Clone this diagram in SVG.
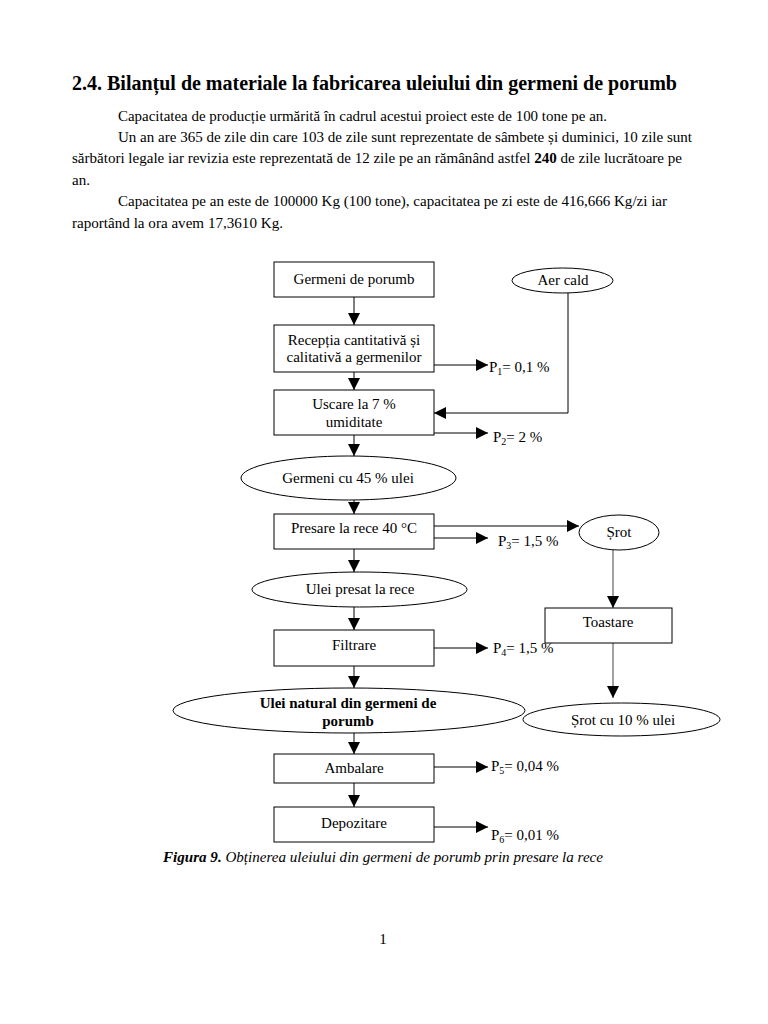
<svg xmlns="http://www.w3.org/2000/svg" width="768" height="1024" viewBox="0 0 768 1024">
<style>
text{font-family:"Liberation Serif","Times New Roman",serif;fill:#000}
.t{font-size:20px;font-weight:bold}
.b{font-size:15px}
.l{font-size:15px;text-anchor:middle}
.p{font-size:15px}
.s{font-size:10px}
.box{fill:#fff;stroke:#000;stroke-width:1}
.ln{fill:none;stroke:#000;stroke-width:1}
.g{stroke:#444}
.cap{font-size:14px;font-style:italic}
</style>
<defs>
<marker id="ah" markerUnits="userSpaceOnUse" markerWidth="12" markerHeight="12" refX="12" refY="6" orient="auto">
<path d="M0,0 L12,6 L0,12 z" fill="#000"/>
</marker>
</defs>
<rect width="768" height="1024" fill="#fff"/>

<g id="header">
<text class="t" x="72" y="90" textLength="605" lengthAdjust="spacingAndGlyphs">2.4. Bilanțul de materiale la fabricarea uleiului din germeni de porumb</text>
<text class="b" x="118" y="121" textLength="489" lengthAdjust="spacingAndGlyphs">Capacitatea de producție urmărită în cadrul acestui proiect este de 100 tone pe an.</text>
<text class="b" x="118" y="142" textLength="574" lengthAdjust="spacingAndGlyphs">Un an are 365 de zile din care 103 de zile sunt reprezentate de sâmbete și duminici, 10 zile sunt</text>
<text class="b" x="72" y="163" textLength="610" lengthAdjust="spacingAndGlyphs">sărbători legale iar revizia este reprezentată de 12 zile pe an rămânând astfel <tspan font-weight="bold">240</tspan> de zile lucrătoare pe</text>
<text class="b" x="72" y="185">an.</text>
<text class="b" x="118" y="206" textLength="549" lengthAdjust="spacingAndGlyphs">Capacitatea pe an este de 100000 Kg (100 tone), capacitatea pe zi este de 416,666 Kg/zi iar</text>
<text class="b" x="72" y="228" textLength="211" lengthAdjust="spacingAndGlyphs">raportând la ora avem 17,3610 Kg.</text>
</g>

<g id="connectors">
<line class="ln" x1="354" y1="297" x2="354" y2="325" marker-end="url(#ah)"/>
<line class="ln" x1="354" y1="372" x2="354" y2="390" marker-end="url(#ah)"/>
<line class="ln" x1="354" y1="435" x2="354" y2="456" marker-end="url(#ah)"/>
<line class="ln" x1="354" y1="500" x2="354" y2="514" marker-end="url(#ah)"/>
<line class="ln" x1="354" y1="549" x2="354" y2="572" marker-end="url(#ah)"/>
<line class="ln" x1="354" y1="607" x2="354" y2="630" marker-end="url(#ah)"/>
<line class="ln" x1="354" y1="666" x2="354" y2="688" marker-end="url(#ah)"/>
<line class="ln" x1="354" y1="733" x2="354" y2="754" marker-end="url(#ah)"/>
<line class="ln" x1="354" y1="783" x2="354" y2="807" marker-end="url(#ah)"/>
<polyline class="ln" points="568,293 568,413 434,413" marker-end="url(#ah)"/>
<line class="ln" x1="434" y1="526" x2="579" y2="526" marker-end="url(#ah)"/>
<line class="ln g" x1="613" y1="550" x2="613" y2="608" marker-end="url(#ah)"/>
<line class="ln g" x1="613" y1="643" x2="613" y2="698" marker-end="url(#ah)"/>
<line class="ln" x1="434" y1="365" x2="488" y2="365" marker-end="url(#ah)"/>
<line class="ln" x1="434" y1="433" x2="488" y2="433" marker-end="url(#ah)"/>
<line class="ln" x1="434" y1="538" x2="488" y2="538" marker-end="url(#ah)"/>
<line class="ln" x1="434" y1="648" x2="488" y2="648" marker-end="url(#ah)"/>
<line class="ln" x1="434" y1="767" x2="488" y2="767" marker-end="url(#ah)"/>
<line class="ln" x1="434" y1="827" x2="488" y2="827" marker-end="url(#ah)"/>
</g>

<g id="n_germeni">
<rect class="box" x="274" y="262" width="160" height="35"/>
<text class="l" x="354" y="284">Germeni de porumb</text>
</g>
<g id="n_receptia">
<rect class="box" x="274" y="325" width="160" height="47"/>
<text class="l" x="354" y="345">Recepția cantitativă și</text>
<text class="l" x="354" y="362">calitativă a germenilor</text>
</g>
<g id="n_uscare">
<rect class="box" x="274" y="390" width="160" height="45"/>
<text class="l" x="354" y="409">Uscare la 7 %</text>
<text class="l" x="354" y="427">umiditate</text>
</g>
<g id="n_aer">
<ellipse class="box" cx="562.5" cy="280.5" rx="50.5" ry="12.5"/>
<text class="l" x="563" y="285">Aer cald</text>
</g>
<g id="n_germeni45">
<ellipse class="box" cx="348.5" cy="478" rx="107.5" ry="22"/>
<text class="l" x="348" y="483">Germeni cu 45 % ulei</text>
</g>
<g id="n_presare">
<rect class="box" x="274" y="514" width="160" height="35"/>
<text class="l" x="354" y="533">Presare la rece 40 °C</text>
</g>
<g id="n_srot">
<ellipse class="box" cx="619" cy="532.5" rx="40" ry="17.5"/>
<text class="l" x="619" y="537">Șrot</text>
</g>
<g id="n_uleipresat">
<ellipse class="box" cx="359.5" cy="589.5" rx="107.5" ry="17.5"/>
<text class="l" x="360" y="594">Ulei presat la rece</text>
</g>
<g id="n_toastare">
<rect class="box" x="545" y="608" width="127" height="35"/>
<text class="l" x="608" y="627">Toastare</text>
</g>
<g id="n_filtrare">
<rect class="box" x="274" y="630" width="160" height="36"/>
<text class="l" x="354" y="650">Filtrare</text>
</g>
<g id="n_uleinatural">
<ellipse class="box" cx="349" cy="710.5" rx="176" ry="22.5"/>
<text class="l" x="348" y="708" font-weight="bold">Ulei natural din germeni de</text>
<text class="l" x="348" y="726" font-weight="bold">porumb</text>
</g>
<g id="n_srot10">
<ellipse class="box" cx="621.5" cy="719.5" rx="98.5" ry="16.5"/>
<text class="l" x="623" y="725">Șrot cu 10 % ulei</text>
</g>
<g id="n_ambalare">
<rect class="box" x="274" y="754" width="160" height="29"/>
<text class="l" x="354" y="773">Ambalare</text>
</g>
<g id="n_depozitare">
<rect class="box" x="274" y="807" width="160" height="35"/>
<text class="l" x="354" y="828">Depozitare</text>
</g>

<g id="losses">
<text class="p" x="489" y="372">P<tspan class="s" dy="3">1</tspan><tspan dy="-3">= 0,1 %</tspan></text>
<text class="p" x="493" y="442">P<tspan class="s" dy="3">2</tspan><tspan dy="-3">= 2 %</tspan></text>
<text class="p" x="498" y="546">P<tspan class="s" dy="3">3</tspan><tspan dy="-3">= 1,5 %</tspan></text>
<text class="p" x="493" y="653">P<tspan class="s" dy="3">4</tspan><tspan dy="-3">= 1,5 %</tspan></text>
<text class="p" x="491" y="771">P<tspan class="s" dy="3">5</tspan><tspan dy="-3">= 0,04 %</tspan></text>
<text class="p" x="491" y="840">P<tspan class="s" dy="3">6</tspan><tspan dy="-3">= 0,01 %</tspan></text>
</g>

<g id="caption">
<text class="cap" x="163" y="862" textLength="440" lengthAdjust="spacingAndGlyphs"><tspan font-weight="bold">Figura 9.</tspan> Obținerea uleiului din germeni de porumb prin presare la rece</text>
<text class="b" x="383" y="944" text-anchor="middle">1</text>
</g>
</svg>
